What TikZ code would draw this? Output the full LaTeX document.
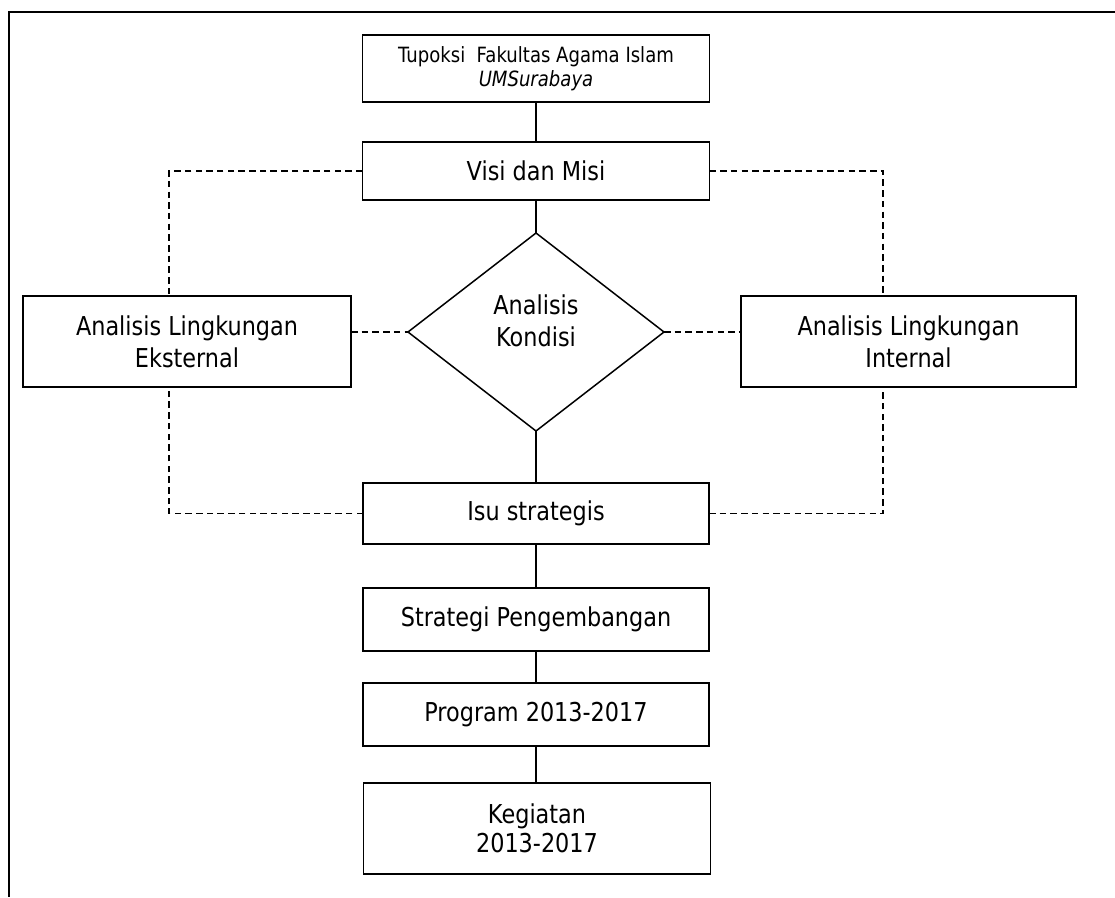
\documentclass[tikz,border=0pt]{standalone}
\usepackage{fontspec}
\setmainfont{DejaVu Sans}[FakeStretch=0.86]
\usetikzlibrary{shapes.geometric}
\begin{document}
\begin{tikzpicture}[x=1pt,y=-1pt,
  every node/.style={inner sep=0pt, outer sep=0pt},
  box/.style={draw, line width=1.5pt, rectangle, align=center,
    font=\fontsize{26}{32}\selectfont},
  conn/.style={line width=1.5pt},
  dconn/.style={line width=1.4pt, dash pattern=on 6.5pt off 4.2pt}]
\fill[white] (0,0) rectangle (1115,897);
\useasboundingbox (0,0) rectangle (1115,897);
% frame (top and left edges)
\draw[line width=1.6pt] (1115,12) -- (9,12) -- (9,897);

\node[box, minimum width=347pt, minimum height=67pt,
  font=\fontsize{21}{24}\selectfont] (tup) at (536,68.5)
  {Tupoksi\ \ Fakultas Agama Islam\\\itshape UMSurabaya};
\node[box, minimum width=347pt, minimum height=58pt] (visi) at (536,171) {Visi dan Misi};
\node[draw, line width=1.5pt, diamond, minimum width=256pt, minimum height=198pt] (dia) at (536,332) {};
\node[align=center, font=\fontsize{26}{32}\selectfont] (dtxt) at (536,321) {Analisis\\Kondisi};
\node[box, minimum width=328pt, minimum height=91pt] (ext) at (187,341.5) {Analisis Lingkungan\\Eksternal};
\node[box, minimum width=335pt, minimum height=91pt] (int) at (908.5,341.5) {Analisis Lingkungan\\Internal};
\node[box, minimum width=346pt, minimum height=61pt] (isu) at (536,513.5) {Isu strategis};
\node[box, minimum width=346pt, minimum height=63pt] (strat) at (536,619.5) {Strategi Pengembangan};
\node[box, minimum width=346pt, minimum height=63pt] (prog) at (536,714.5) {Program 2013-2017};
\node[box, minimum width=347pt, minimum height=91pt,
  font=\fontsize{26}{29}\selectfont] (keg) at (537,828.5) {Kegiatan\\2013-2017};

% solid spine
\draw[conn] (tup.south) -- (visi.north);
\draw[conn] (visi.south) -- (dia.north);
\draw[conn] (dia.south) -- (isu.north);
\draw[conn] (isu.south) -- (strat.north);
\draw[conn] (strat.south) -- (prog.north);
\draw[conn] (prog.south) -- (keg.north -| prog.south);

% dashed connectors
\coordinate (lx) at (169,171);
\coordinate (rx) at (883,171);
\draw[dconn] (visi.west) -- (lx) -- (lx |- ext.north);
\draw[dconn] (visi.east) -- (rx) -- (rx |- int.north);
\draw[dconn] (isu.west) -- (lx |- isu.west) -- (lx |- ext.south);
\draw[dconn] (isu.east) -- (rx |- isu.east) -- (rx |- int.south);
\draw[dconn] (ext.east |- dia.west) -- (dia.west);
\draw[dconn] (dia.east) -- (int.west |- dia.east);
\end{tikzpicture}
\end{document}
